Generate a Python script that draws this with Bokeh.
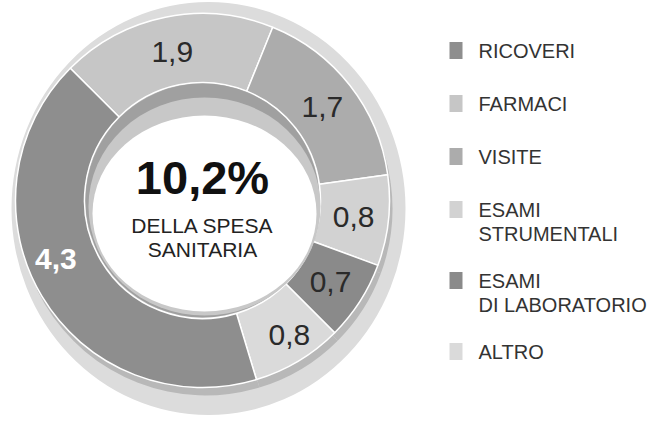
import numpy as np
from bokeh.plotting import figure
from bokeh.models import ColumnDataSource, Range1d
from bokeh.core.properties import value
from bokeh.embed import file_html
from bokeh.resources import INLINE

# ---------------- data ----------------
categories = ["RICOVERI", "FARMACI", "VISITE", "ESAMI\nSTRUMENTALI",
              "ESAMI\nDI LABORATORIO", "ALTRO"]
values = [4.3, 1.9, 1.7, 0.8, 0.7, 0.8]
value_labels = ["4,3", "1,9", "1,7", "0,8", "0,7", "0,8"]
center_title = "10,2%"
center_sub = ["DELLA SPESA", "SANITARIA"]

# ---------------- styles ----------------
colors = ["#8e8e8e", "#c6c6c6", "#acacac", "#d2d2d2", "#8a8a8a", "#dadada"]
label_colors = ["#ffffff", "#2a2a2a", "#2a2a2a", "#2a2a2a", "#2a2a2a", "#2a2a2a"]
label_weights = ["bold", "normal", "normal", "normal", "normal", "normal"]
label_nudge_deg = [-9, 0, 0, 0, 0, 2]
label_r = [158, 152, 152, 152, 152, 160]
draw_order = [1, 2, 3, 4, 5, 0]   # clockwise from the upper-left boundary
start_deg = 135
FONT = "Liberation Sans"

W, H = 651, 417
OFF = 8
def px(X):
    return X - OFF
def py(Y):
    return H + OFF - Y

CX, CY = 210, 208        # donut centre (image px)
R_OUT, R_IN = 187, 118

p = figure(width=W, height=H, output_backend="svg", toolbar_location=None,
           x_range=Range1d(0, W), y_range=Range1d(0, H), min_border=0,
           background_fill_color="white", border_fill_color="white")
p.axis.visible = False
p.grid.visible = False
p.outline_line_color = None

# shadow behind donut
p.ellipse(x=[px(216)], y=[py(216)], width=[394], height=[413],
          fill_color="#dcdcdc", line_color=None)

# wedge angles
total = sum(values)
starts, ends, cols, mids = [], [], [], {}
a0 = np.radians(start_deg)
for i in draw_order:
    a1 = a0 - values[i] / total * 2 * np.pi
    starts.append(a1)
    ends.append(a0)
    cols.append(colors[i])
    mids[i] = (a0 + a1) / 2
    a0 = a1

n = len(draw_order)
# 3D side band
p.annular_wedge(x=[px(CX) + 3] * n, y=[py(CY) - 8] * n, inner_radius=R_IN, outer_radius=R_OUT,
                start_angle=starts, end_angle=ends, fill_color="#b8b8b8", line_color=None)
# main wedges
src = ColumnDataSource(dict(x=[px(CX)] * n, y=[py(CY)] * n, start=starts, end=ends, color=cols))
p.annular_wedge(x="x", y="y", inner_radius=R_IN, outer_radius=R_OUT,
                start_angle="start", end_angle="end", fill_color="color",
                line_color="white", line_width=1.5, source=src)

# inner ring and hole
p.circle(x=[px(CX)], y=[py(CY)], radius=R_IN - 1, fill_color="#a0a0a0", line_color=None)
p.ellipse(x=[px(212)], y=[py(214)], width=[232], height=[218],
          fill_color="#c8c8c8", line_color=None)
p.ellipse(x=[px(212)], y=[py(221)], width=[224], height=[196],
          fill_color="white", line_color=None)

# value labels
lx, ly, lt, lc, lw = [], [], [], [], []
for i in range(len(values)):
    a = mids[i] + np.radians(label_nudge_deg[i])
    lx.append(px(CX) + label_r[i] * np.cos(a))
    ly.append(py(CY) + label_r[i] * np.sin(a))
    lt.append(value_labels[i])
    lc.append(label_colors[i])
    lw.append(label_weights[i])
p.text(x=lx, y=ly, text=lt, text_color=lc, text_font_style=lw,
       text_font=value(FONT), text_font_size="30px",
       text_align="center", text_baseline="middle")

# centre text
p.text(x=[px(210)], y=[py(185)], text=[center_title], text_font=value(FONT),
       text_font_size="47px", text_font_style="bold", text_color="#111111",
       text_align="center", text_baseline="middle")
p.text(x=[px(210)] * 2, y=[py(233), py(257)], text=center_sub, text_font=value(FONT),
       text_font_size="21px", text_color="#222222",
       text_align="center", text_baseline="middle")

# legend
sq_x, sq_y, tx, ty, tt = [], [], [], [], []
y = 58
for i, lab in enumerate(categories):
    lines = lab.split("\n")
    sq_x.append(px(463.5))
    sq_y.append(py(y))
    for k, line in enumerate(lines):
        tx.append(px(486))
        ty.append(py(y + 24 * k))
        tt.append(line)
    y += 53 + 18 * (len(lines) - 1)
p.rect(x=sq_x, y=sq_y, width=13, height=17, fill_color=colors, line_color=None)
p.text(x=tx, y=ty, text=tt, text_font=value(FONT), text_font_size="20px",
       text_color="#333333", text_align="left", text_baseline="middle")

open("out.html", "w").write(file_html(p, INLINE))
